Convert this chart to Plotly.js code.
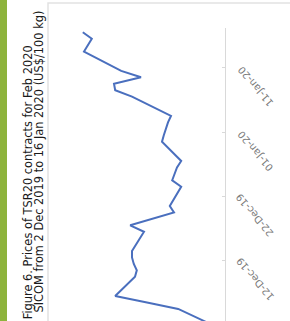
<!DOCTYPE html>
<html>
<head>
<meta charset="utf-8">
<script src="https://cdn.plot.ly/plotly-3.0.1.min.js"></script>
<style>
  html, body { margin: 0; padding: 0; background: #ffffff; overflow: hidden; }
  #chart { width: 290px; height: 321px; }
</style>
</head>
<body>
<div id="chart"></div>
<script>
// Trading days (SICOM) and TSR20 Feb-2020 contract prices (US$/100 kg)
const dates = [
  '2019-12-02','2019-12-03','2019-12-04','2019-12-05','2019-12-06',
  '2019-12-09','2019-12-10','2019-12-11','2019-12-12','2019-12-13',
  '2019-12-16','2019-12-17','2019-12-18','2019-12-19','2019-12-20',
  '2019-12-23','2019-12-24','2019-12-26','2019-12-27',
  '2019-12-30','2019-12-31','2020-01-02','2020-01-03',
  '2020-01-06','2020-01-07','2020-01-08','2020-01-09','2020-01-10',
  '2020-01-13','2020-01-14','2020-01-15','2020-01-16'
];
const prices = [
  138.2, 140.5, 142.8, 148.0, 153.3,
  150.0, 149.7, 150.2, 150.5, 150.5,
  148.5, 150.8, 147.3, 143.5, 144.2,
  142.3, 143.8, 143.0, 142.3,
  145.5, 145.2, 144.5, 144.0,
  150.5, 153.3, 153.5, 149.0, 152.3,
  158.5, 157.8, 157.2, 158.7
];
const tickDates = ['2019-12-12', '2019-12-22', '2020-01-01', '2020-01-11'];
const tickLabels = ['12-Dec-19', '22-Dec-19', '01-Jan-20', '11-Jan-20'];
const titleLines = [
  'Figure 6. Prices of TSR20 contracts for Feb 2020',
  'SICOM from 2 Dec 2019 to 16 Jan 2020 (US$/100 kg)'
];

const FONT = '"DejaVu Sans", "Liberation Sans", sans-serif';

const trace = {
  type: 'scatter',
  mode: 'lines',
  x: prices,
  y: dates,
  yperiod: 86400000,
  yperiodalignment: 'middle',
  line: { color: '#4a6fbe', width: 2 },
  hoverinfo: 'skip'
};

const annotations = [];
tickDates.forEach((d, i) => {
  annotations.push({
    xref: 'paper', yref: 'y',
    x: 1.1714, y: d,
    yshift: -18.5,
    text: tickLabels[i],
    textangle: -130,
    showarrow: false,
    xanchor: 'center', yanchor: 'middle',
    font: { family: FONT, size: 10, color: '#7a7a7a' }
  });
});
const titlePos = [
  { x: -0.124, y: 0.9454 },
  { x: -0.0600, y: 1.0614 }
];
titleLines.forEach((t, i) => {
  annotations.push({
    xref: 'paper', yref: 'paper',
    x: titlePos[i].x, y: titlePos[i].y,
    text: t,
    textangle: -90,
    showarrow: false,
    borderpad: 0,
    xanchor: 'center', yanchor: 'top',
    font: { family: FONT, size: 11.4, color: '#1a1a1a' }
  });
});

const layout = {
  width: 290,
  height: 321,
  margin: { l: 50, r: 65, t: 28, b: 0, pad: 0 },
  paper_bgcolor: '#ffffff',
  plot_bgcolor: '#ffffff',
  showlegend: false,
  xaxis: {
    range: [164.1667, 135],
    showgrid: false, zeroline: false, showline: false,
    showticklabels: false, ticks: '', fixedrange: true
  },
  yaxis: {
    type: 'date',
    side: 'right',
    range: ['2019-12-02 15:00', '2020-01-17 04:00'],
    showgrid: false, zeroline: false,
    showline: true, linecolor: '#d9d9d9', linewidth: 1,
    tickmode: 'array', tickvals: tickDates,
    ticks: 'inside', ticklen: 3, tickcolor: '#d9d9d9',
    showticklabels: false, fixedrange: true
  },
  annotations: annotations,
  shapes: [
    { type: 'rect', xref: 'paper', yref: 'paper', layer: 'below',
      x0: -0.2857, x1: -0.2457, y0: -0.1, y1: 1.2,
      fillcolor: '#8db33c', line: { width: 0 } },
    { type: 'rect', xref: 'paper', yref: 'paper', layer: 'below',
      x0: -0.0114, x1: 1.5, y0: -0.1, y1: 1.0853,
      fillcolor: 'rgba(0,0,0,0)', line: { color: '#e2e2e2', width: 1.5 } }
  ]
};

Plotly.newPlot('chart', [trace], layout, { displayModeBar: false, staticPlot: true });
</script>
</body>
</html>
